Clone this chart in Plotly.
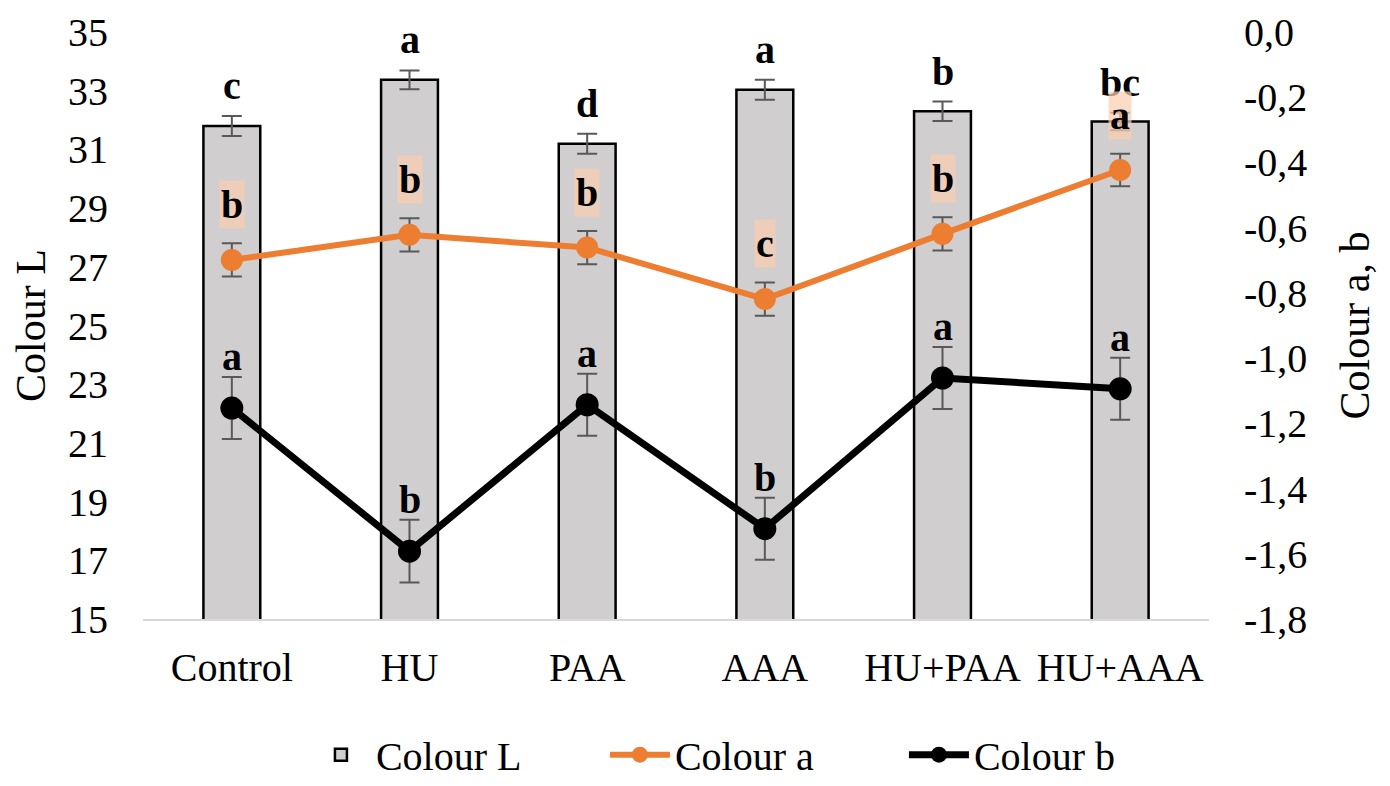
import plotly.graph_objects as go

categories = ["Control", "HU", "PAA", "AAA", "HU+PAA", "HU+AAA"]

colour_L = [31.80, 33.37, 31.19, 33.03, 32.30, 31.95]
colour_L_err = [0.34, 0.32, 0.34, 0.34, 0.33, 0.30]
colour_L_letters = ["c", "a", "d", "a", "b", "bc"]

colour_a = [-0.699, -0.622, -0.661, -0.819, -0.619, -0.423]
colour_a_err = [0.051, 0.051, 0.051, 0.051, 0.051, 0.050]
colour_a_letters = ["b", "b", "b", "c", "b", "a"]

colour_b = [-1.153, -1.592, -1.143, -1.523, -1.061, -1.094]
colour_b_err = [0.095, 0.096, 0.095, 0.095, 0.095, 0.095]
colour_b_letters = ["a", "b", "a", "b", "a", "a"]

left_ticks = list(range(15, 36, 2))
right_ticks = [-1.8, -1.6, -1.4, -1.2, -1.0, -0.8, -0.6, -0.4, -0.2, 0.0]

FONT = "Liberation Serif"
ORANGE = "#ED7D31"
ERR = "#595959"

fig = go.Figure()

fig.add_trace(go.Bar(
    x=categories, y=colour_L, name="Colour L",
    marker=dict(color="#D0CECE", line=dict(color="black", width=2.5)),
    error_y=dict(type="data", array=colour_L_err, color=ERR, thickness=2, width=10),
    yaxis="y",
))

fig.add_trace(go.Scatter(
    x=categories, y=colour_a, name="Colour a", mode="lines+markers",
    line=dict(color=ORANGE, width=6),
    marker=dict(color=ORANGE, size=22),
    error_y=dict(type="data", array=colour_a_err, color=ERR, thickness=2, width=10),
    yaxis="y2",
))

fig.add_trace(go.Scatter(
    x=categories, y=colour_b, name="Colour b", mode="lines+markers",
    line=dict(color="black", width=7),
    marker=dict(color="black", size=23),
    error_y=dict(type="data", array=colour_b_err, color=ERR, thickness=2, width=10),
    yaxis="y2",
))

annotations = []
for c, v, e, t in zip(categories, colour_L, colour_L_err, colour_L_letters):
    annotations.append(dict(x=c, y=v + e, xref="x", yref="y", text=f"<b>{t}</b>",
                            showarrow=False, yanchor="bottom", yshift=6,
                            font=dict(family=FONT, size=40, color="black")))
for c, v, e, t in zip(categories, colour_a, colour_a_err, colour_a_letters):
    annotations.append(dict(x=c, y=v + e, xref="x", yref="y2", text=f"<b>{t}</b>",
                            showarrow=False, yanchor="bottom", yshift=14,
                            bgcolor="rgba(250,206,176,0.72)", borderpad=1,
                            font=dict(family=FONT, size=40, color="black")))
for c, v, e, t in zip(categories, colour_b, colour_b_err, colour_b_letters):
    annotations.append(dict(x=c, y=v + e, xref="x", yref="y2", text=f"<b>{t}</b>",
                            showarrow=False, yanchor="bottom", yshift=-4,
                            font=dict(family=FONT, size=40, color="black")))

fig.update_layout(
    width=1390, height=786,
    margin=dict(l=135, r=189, t=24, b=175, autoexpand=False),
    paper_bgcolor="white", plot_bgcolor="white",
    font=dict(family=FONT, size=40, color="black"),
    bargap=0.68,
    showlegend=True,
    legend=dict(orientation="h", x=0.537, xanchor="center", xref="container",
                yref="container", y=0.05, yanchor="middle",
                font=dict(family=FONT, size=40, color="black"),
                itemwidth=60, entrywidth=224, entrywidthmode="pixels",
                tracegroupgap=0),
    xaxis=dict(showline=True, linecolor="#D9D9D9", linewidth=2, showgrid=False,
               ticks="", ticklabelstandoff=12, automargin=False,
               tickfont=dict(family=FONT, size=40, color="black")),
    yaxis=dict(range=[15, 35], tickvals=left_ticks, showgrid=False, zeroline=False,
               showline=False, ticks="", ticklabelstandoff=34, automargin=False,
               tickfont=dict(family=FONT, size=40, color="black"),
               title=dict(text="Colour L", font=dict(family=FONT, size=42, color="black"),
                          standoff=10)),
    yaxis2=dict(range=[-1.8, 0.0], overlaying="y", side="right",
                tickvals=right_ticks,
                ticktext=[f"{v:.1f}".replace(".", ",") for v in right_ticks],
                showgrid=False, zeroline=False, showline=False, ticks="",
                ticklabelstandoff=34, automargin=False,
                tickfont=dict(family=FONT, size=40, color="black"),
                title=dict(text="Colour a, b", font=dict(family=FONT, size=42, color="black"),
                           standoff=33)),
    annotations=annotations,
)

fig.write_html("out.html")
